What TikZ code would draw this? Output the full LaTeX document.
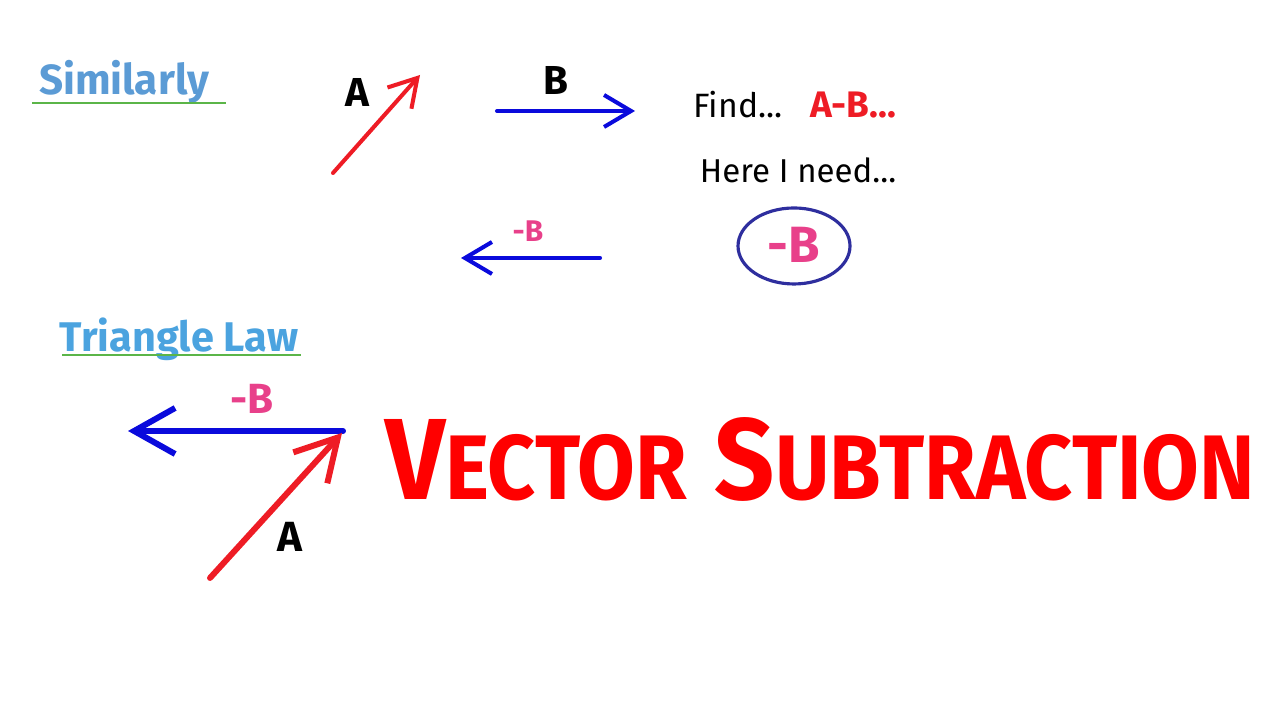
\documentclass[tikz,border=0pt]{standalone}
\usepackage{fontspec}
\usepackage{graphicx}
\setmainfont{Fira Sans}
\usetikzlibrary{positioning, arrows.meta, shapes.geometric}
\definecolor{headblue}{HTML}{5B9BD5}
\definecolor{lawblue}{HTML}{4BA3DF}
\definecolor{ulgreen}{HTML}{5BB548}
\definecolor{vecred}{HTML}{EE1C25}
\definecolor{vecblue}{HTML}{0A0ADC}
\definecolor{negpink}{HTML}{E8408A}
\definecolor{ringnavy}{HTML}{2E2E9E}
\newcommand{\capsz}[2]{{\fontsize{#1}{#1}\selectfont #2}}

\begin{document}
\begin{tikzpicture}[
                head/.style={anchor=base, font=\bfseries\fontsize{12}{14}\selectfont, text=headblue, inner sep=0pt},
                uline/.style={draw=ulgreen, line width=0.6pt},
                lbl/.style={anchor=base, font=\bfseries\fontsize{11.5}{13}\selectfont, inner sep=0pt},
                note/.style={anchor=base, font=\fontsize{9.6}{12}\selectfont, inner sep=0pt},
                vsmall/.style={line width=1.15pt, line cap=round, -{Straight Barb[length=2.7mm,width=3.2mm]}},
                vbig/.style={line width=1.7pt, line cap=round, -{Straight Barb[length=4.1mm,width=4.6mm]}}
            ]
                \useasboundingbox (0,0) rectangle (12.8,7.2);

                % Top: the two vectors
                \node[head] (sim) at (1.24,6.25) {Similarly};
                \draw[uline] (0.32,6.17) -- (2.26,6.17);

                \coordinate (a1) at (3.33,5.47);
                \coordinate (a2) at (4.20,6.45);
                \draw[vsmall, vecred] (a1) -- (a2);
                \node[lbl] (la) at (3.57,6.13) {A};

                \coordinate (b1) at (4.97,6.09);
                \coordinate (b2) at (6.35,6.09);
                \draw[vsmall, vecblue] (b1) -- (b2);
                \node[lbl] (lb) at (5.56,6.25) {B};

                % Right: what is asked
                \node[note] (find) at (7.38,6.02) {Find...};
                \node[lbl, text=vecred, font=\bfseries\fontsize{10.5}{12}\selectfont] (amb) at (8.53,6.02) {A-B...};
                \node[note, font=\fontsize{9.4}{12}\selectfont] (need) at (7.98,5.37) {Here I need...};
                \node[ellipse, draw=ringnavy, line width=0.9pt, minimum width=1.12cm, minimum height=0.76cm] (ring) at (7.94,4.74) {};
                \node[lbl, text=negpink, font=\bfseries\fontsize{14.5}{16}\selectfont] (nb) at (7.94,4.57) {-B};

                % Reversed B
                \coordinate (n1) at (6.00,4.62);
                \coordinate (n2) at (4.61,4.62);
                \draw[vsmall, vecblue] (n1) -- (n2);
                \node[lbl, text=negpink, font=\bfseries\fontsize{8.5}{10}\selectfont] (lnb) at (5.28,4.78) {-B};

                % Bottom: triangle law
                \node[head, text=lawblue, font=\bfseries\fontsize{11.8}{14}\selectfont] (tri) at (1.79,3.68) {Triangle Law};
                \draw[uline] (0.62,3.65) -- (3.01,3.65);

                \coordinate (t0) at (2.10,1.42);
                \coordinate (t1) at (3.42,2.87);
                \coordinate (t2) at (3.43,2.89);
                \coordinate (t3) at (1.28,2.89);
                \draw[vbig, vecblue] (t2) -- (t3);
                \draw[vbig, vecred] (t0) -- (t1);
                \node[lbl, text=negpink, font=\bfseries\fontsize{12}{14}\selectfont] (tnb) at (2.52,3.06) {-B};
                \node[lbl, font=\bfseries\fontsize{12}{14}\selectfont] (ta) at (2.90,1.68) {A};

                % Title
                \node[anchor=base, inner sep=0pt, text=red] (title) at (8.20,2.20)
                    {\resizebox{8.7cm}{0.82cm}{\bfseries\capsz{34}{V}\capsz{27}{ECTOR}\hspace{9pt}\capsz{34}{S}\capsz{27}{UBTRACTION}}};

            \end{tikzpicture}
\end{document}
